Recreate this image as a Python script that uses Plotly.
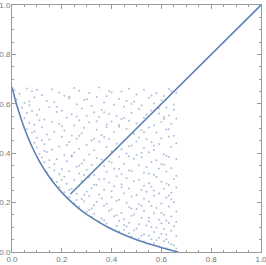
import plotly.graph_objects as go

# Boundary curve
curve_x = [0.0, 0.02, 0.05, 0.08, 0.11, 0.14, 0.18, 0.22, 0.27, 0.32, 0.38, 0.44, 0.50, 0.56, 0.62, 0.667]
curve_y = [0.667, 0.592, 0.500, 0.427, 0.367, 0.318, 0.264, 0.220, 0.175, 0.139, 0.103, 0.074, 0.050, 0.030, 0.012, 0.0]

# Diagonal line
diag_x = [0.235, 1.0]
diag_y = [0.235, 1.0]

# Scatter dots
dots_x = [
    0.01, 0.06, 0.08, 0.16, 0.25, 0.27, 0.35, 0.44, 0.47, 0.53, 0.64,
    0.03, 0.12, 0.19, 0.21, 0.31, 0.38, 0.40, 0.50, 0.58, 0.61, 0.66,
    0.02, 0.09, 0.14, 0.23, 0.29, 0.34, 0.43, 0.46, 0.55, 0.60,
    0.05, 0.07, 0.17, 0.26, 0.32, 0.37, 0.41, 0.49, 0.52, 0.57, 0.65,
    0.04, 0.11, 0.15, 0.20, 0.28, 0.36, 0.45, 0.51, 0.56, 0.62,
    0.06, 0.10, 0.18, 0.24, 0.30, 0.33, 0.39, 0.42, 0.48, 0.54, 0.59, 0.63,
    0.05, 0.13, 0.22, 0.27, 0.35, 0.44, 0.47, 0.53, 0.61, 0.66,
    0.07, 0.09, 0.16, 0.19, 0.25, 0.31, 0.38, 0.40, 0.50, 0.57, 0.60, 0.64,
    0.06, 0.12, 0.21, 0.29, 0.34, 0.43, 0.46, 0.52, 0.55, 0.62,
    0.08, 0.14, 0.17, 0.24, 0.28, 0.36, 0.41, 0.49, 0.58, 0.65,
    0.10, 0.15, 0.20, 0.26, 0.32, 0.37, 0.39, 0.45, 0.51, 0.54, 0.60, 0.63,
    0.09, 0.13, 0.23, 0.30, 0.35, 0.42, 0.48, 0.56, 0.59, 0.66,
    0.10, 0.16, 0.19, 0.27, 0.33, 0.38, 0.44, 0.47, 0.53, 0.57, 0.64,
    0.11, 0.14, 0.21, 0.25, 0.31, 0.40, 0.46, 0.50, 0.55, 0.61,
    0.12, 0.18, 0.24, 0.29, 0.34, 0.36, 0.43, 0.49, 0.52, 0.58, 0.63, 0.66,
    0.13, 0.17, 0.22, 0.28, 0.32, 0.39, 0.45, 0.51, 0.56, 0.60,
    0.15, 0.20, 0.26, 0.30, 0.37, 0.41, 0.47, 0.54, 0.59, 0.64,
    0.14, 0.19, 0.23, 0.27, 0.33, 0.38, 0.44, 0.48, 0.53, 0.57, 0.62,
    0.16, 0.21, 0.25, 0.31, 0.35, 0.42, 0.46, 0.51, 0.58, 0.65,
    0.18, 0.22, 0.28, 0.33, 0.39, 0.44, 0.49, 0.55, 0.60, 0.63,
    0.19, 0.24, 0.27, 0.32, 0.37, 0.41, 0.47, 0.52, 0.56, 0.61, 0.66,
    0.21, 0.26, 0.30, 0.35, 0.40, 0.45, 0.50, 0.54, 0.59, 0.64,
    0.23, 0.28, 0.31, 0.36, 0.43, 0.48, 0.53, 0.57, 0.62,
    0.25, 0.29, 0.34, 0.38, 0.42, 0.46, 0.51, 0.55, 0.60, 0.65,
    0.27, 0.32, 0.37, 0.40, 0.47, 0.50, 0.56, 0.58, 0.63,
    0.30, 0.33, 0.39, 0.44, 0.49, 0.53, 0.57, 0.61, 0.66,
    0.32, 0.36, 0.41, 0.45, 0.48, 0.52, 0.59, 0.64,
    0.35, 0.38, 0.43, 0.47, 0.51, 0.55, 0.60, 0.62, 0.66,
    0.39, 0.42, 0.46, 0.50, 0.54, 0.58, 0.61, 0.65,
    0.43, 0.47, 0.49, 0.53, 0.57, 0.60, 0.64,
    0.48, 0.51, 0.55, 0.59, 0.62, 0.66,
    0.53, 0.57, 0.61, 0.63,
    0.59, 0.62, 0.65,
    0.10, 0.23, 0.39, 0.56, 0.63,
    0.07, 0.18, 0.30, 0.48, 0.59,
    0.08, 0.26, 0.37, 0.45, 0.65,
    0.11, 0.20, 0.34, 0.43, 0.61,
    0.09, 0.27, 0.38, 0.53, 0.63,
    0.12, 0.22, 0.33, 0.50, 0.57,
    0.13, 0.24, 0.42, 0.52, 0.62,
    0.15, 0.27, 0.40, 0.47, 0.61,
    0.17, 0.29, 0.43, 0.55, 0.66,
    0.20, 0.34, 0.37, 0.53, 0.62,
    0.23, 0.29, 0.44, 0.57, 0.63,
    0.26, 0.33, 0.40, 0.52, 0.64,
    0.31, 0.42, 0.48, 0.55, 0.60,
    0.37, 0.45, 0.56, 0.63,
    0.45, 0.52, 0.62, 0.58,
    0.56, 0.64, 0.66,
]
dots_y = [
    0.655, 0.662, 0.651, 0.659, 0.664, 0.653, 0.666, 0.650, 0.661, 0.657, 0.652,
    0.641, 0.636, 0.646, 0.633, 0.644, 0.631, 0.647, 0.638, 0.643, 0.632, 0.645,
    0.617, 0.626, 0.612, 0.622, 0.615, 0.628, 0.619, 0.611, 0.624, 0.614,
    0.603, 0.594, 0.607, 0.598, 0.591, 0.605, 0.596, 0.608, 0.593, 0.601, 0.597,
    0.584, 0.577, 0.586, 0.572, 0.581, 0.575, 0.588, 0.579, 0.573, 0.585,
    0.563, 0.555, 0.567, 0.558, 0.552, 0.566, 0.559, 0.551, 0.564, 0.556, 0.561, 0.553,
    0.542, 0.536, 0.545, 0.533, 0.547, 0.538, 0.531, 0.544, 0.537, 0.540,
    0.523, 0.515, 0.527, 0.518, 0.512, 0.525, 0.516, 0.528, 0.521, 0.513, 0.526, 0.519,
    0.497, 0.505, 0.492, 0.503, 0.495, 0.507, 0.499, 0.493, 0.504, 0.496,
    0.483, 0.476, 0.487, 0.472, 0.481, 0.474, 0.486, 0.478, 0.484, 0.471,
    0.463, 0.455, 0.467, 0.458, 0.452, 0.466, 0.457, 0.451, 0.464, 0.456, 0.461, 0.468,
    0.442, 0.436, 0.445, 0.433, 0.447, 0.438, 0.431, 0.444, 0.437, 0.440,
    0.423, 0.415, 0.427, 0.418, 0.412, 0.425, 0.416, 0.428, 0.421, 0.413, 0.426,
    0.397, 0.405, 0.392, 0.403, 0.395, 0.407, 0.399, 0.393, 0.404, 0.396,
    0.383, 0.376, 0.387, 0.372, 0.381, 0.374, 0.386, 0.378, 0.384, 0.371, 0.385, 0.377,
    0.363, 0.355, 0.367, 0.358, 0.352, 0.366, 0.357, 0.351, 0.364, 0.356,
    0.342, 0.336, 0.345, 0.333, 0.347, 0.338, 0.331, 0.344, 0.337, 0.340,
    0.323, 0.315, 0.327, 0.318, 0.312, 0.325, 0.316, 0.328, 0.321, 0.313, 0.326,
    0.297, 0.305, 0.292, 0.303, 0.295, 0.307, 0.299, 0.293, 0.304, 0.296,
    0.283, 0.276, 0.287, 0.272, 0.281, 0.274, 0.286, 0.278, 0.284, 0.271,
    0.263, 0.255, 0.267, 0.258, 0.252, 0.266, 0.257, 0.251, 0.264, 0.256, 0.261,
    0.242, 0.236, 0.245, 0.233, 0.247, 0.238, 0.231, 0.244, 0.237, 0.240,
    0.223, 0.215, 0.227, 0.218, 0.212, 0.225, 0.216, 0.228, 0.221,
    0.197, 0.205, 0.203, 0.195, 0.207, 0.199, 0.193, 0.204, 0.196, 0.201,
    0.183, 0.176, 0.187, 0.172, 0.181, 0.174, 0.186, 0.178, 0.184,
    0.163, 0.155, 0.167, 0.158, 0.152, 0.166, 0.157, 0.151, 0.164,
    0.142, 0.136, 0.145, 0.133, 0.147, 0.138, 0.131, 0.144,
    0.123, 0.115, 0.127, 0.118, 0.112, 0.125, 0.116, 0.128, 0.121,
    0.097, 0.105, 0.103, 0.095, 0.107, 0.099, 0.093, 0.104,
    0.083, 0.076, 0.087, 0.072, 0.081, 0.074, 0.086,
    0.063, 0.055, 0.067, 0.058, 0.052, 0.064,
    0.043, 0.036, 0.045, 0.038,
    0.023, 0.015, 0.027,
    0.657, 0.629, 0.652, 0.634, 0.660,
    0.609, 0.588, 0.618, 0.599, 0.582,
    0.571, 0.549, 0.566, 0.543, 0.576,
    0.533, 0.509, 0.529, 0.514, 0.546,
    0.489, 0.471, 0.506, 0.485, 0.497,
    0.452, 0.433, 0.459, 0.447, 0.431,
    0.409, 0.391, 0.418, 0.402, 0.389,
    0.371, 0.349, 0.362, 0.388, 0.353,
    0.331, 0.312, 0.336, 0.318, 0.309,
    0.291, 0.271, 0.296, 0.268, 0.277,
    0.251, 0.232, 0.262, 0.249, 0.229,
    0.211, 0.189, 0.222, 0.186, 0.214,
    0.171, 0.149, 0.176, 0.139, 0.158,
    0.129, 0.109, 0.101, 0.117,
    0.089, 0.066, 0.071, 0.048,
    0.052, 0.031, 0.014,
]

tick_vals = [0.0, 0.2, 0.4, 0.6, 0.8, 1.0]
tick_text = ["0.0", "0.2", "0.4", "0.6", "0.8", "1.0"]

blue = "#5E81B5"
gray = "#9a9a9a"

fig = go.Figure()
fig.add_trace(go.Scatter(x=dots_x, y=dots_y, mode="markers",
                         marker=dict(size=2, color="rgba(94,129,181,0.5)", line=dict(width=0)),
                         hoverinfo="skip"))
fig.add_trace(go.Scatter(x=diag_x, y=diag_y, mode="lines",
                         line=dict(color=blue, width=1.6)))
fig.add_trace(go.Scatter(x=curve_x, y=curve_y, mode="lines",
                         line=dict(color=blue, width=1.6, shape="spline")))

axis_common = dict(
    range=[0, 1], tickvals=tick_vals, ticktext=tick_text,
    showgrid=False, zeroline=False,
    showline=True, linecolor=gray, linewidth=1, mirror="ticks",
    ticks="inside", ticklen=4, tickcolor=gray, tickwidth=1,
    minor=dict(ticks="inside", ticklen=2, dtick=0.05, tick0=0, tickcolor=gray, showgrid=False),
    tickfont=dict(family="Liberation Sans", size=8, color="#777777"),
    automargin=False,
    ticklabeloverflow="allow",
    ticklabelstandoff=-1,
)

fig.update_layout(
    width=266, height=265,
    margin=dict(l=12, r=5, t=5, b=13),
    paper_bgcolor="white", plot_bgcolor="white",
    showlegend=False,
    xaxis=dict(**axis_common),
    yaxis=dict(**axis_common),
)

fig.write_html("out.html", config={"displayModeBar": False},
               post_script="document.body.style.margin='0';document.body.style.padding='0';")
